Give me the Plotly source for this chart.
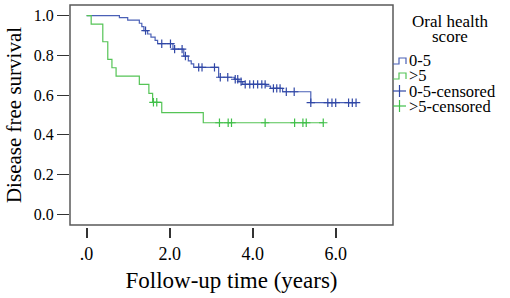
import plotly.graph_objects as go

# ---- data ----
blue_times = [0, 0.79, 0.99, 1.27, 1.33, 1.38, 1.47, 1.55, 1.65, 1.71, 2.08, 2.34, 2.45, 2.52, 2.58,
              3.18, 3.56, 3.67, 3.76, 4.32, 4.43, 4.72, 5.40, 6.51]
blue_surv = [1.0, 0.990, 0.978, 0.962, 0.945, 0.925, 0.908, 0.892, 0.876, 0.859, 0.832, 0.797, 0.773,
             0.757, 0.740, 0.690, 0.680, 0.668, 0.654, 0.645, 0.634, 0.617, 0.562, 0.562]
blue_cens_t = [1.42, 1.81, 2.02, 2.12, 2.30, 2.38, 2.70, 2.78, 3.08, 3.22, 3.40, 3.58, 3.64, 3.72,
               3.82, 3.93, 4.02, 4.12, 4.22, 4.30, 4.50, 4.58, 4.66, 4.81, 5.00, 5.40, 5.81, 5.91,
               6.00, 6.31, 6.40, 6.49]
blue_cens_s = [0.925, 0.859, 0.859, 0.832, 0.832, 0.797, 0.740, 0.740, 0.740, 0.690, 0.690, 0.680,
               0.680, 0.668, 0.654, 0.654, 0.654, 0.654, 0.654, 0.654, 0.634, 0.634, 0.634, 0.617,
               0.617, 0.562, 0.562, 0.562, 0.562, 0.562, 0.562, 0.562]

green_times = [0, 0.11, 0.39, 0.51, 0.61, 0.71, 1.27, 1.50, 1.59, 1.81, 2.81, 5.70]
green_surv = [1.0, 0.958, 0.869, 0.780, 0.738, 0.696, 0.654, 0.609, 0.564, 0.512, 0.461, 0.461]
green_cens_t = [1.61, 1.69, 3.20, 3.41, 3.49, 4.30, 5.01, 5.21, 5.29, 5.70]
green_cens_s = [0.564, 0.564, 0.461, 0.461, 0.461, 0.461, 0.461, 0.461, 0.461, 0.461]

x_ticks = [0, 2, 4, 6]
x_tick_labels = [".0", "2.0", "4.0", "6.0"]
y_ticks = [0, 0.2, 0.4, 0.6, 0.8, 1.0]
y_tick_labels = ["0.0", "0.2", "0.4", "0.6", "0.8", "1.0"]

legend_title_lines = ["Oral health", "score"]
legend_labels = ["0-5", ">5", "0-5-censored", ">5-censored"]

BLUE = "#4a60b6"
BLUE_MARK = "#3047a6"
GREEN = "#55c456"
GREEN_MARK = "#3fbf48"
FONT = "Liberation Serif"

W, H = 510, 298
ML, MR, MT, MB = 70, 117, 5, 71
PW = W - ML - MR
PH = H - MT - MB


def px(xp):
    return (xp - ML) / PW


def py(yp):
    return (H - MB - yp) / PH


fig = go.Figure()
fig.add_trace(go.Scatter(x=blue_times, y=blue_surv, mode="lines", line=dict(color=BLUE, width=1.2, shape="hv"),
                         showlegend=False))
fig.add_trace(go.Scatter(x=green_times, y=green_surv, mode="lines", line=dict(color=GREEN, width=1.2, shape="hv"),
                         showlegend=False))
fig.add_trace(go.Scatter(x=blue_cens_t, y=blue_cens_s, mode="markers",
                         marker=dict(symbol="cross-thin-open", size=6, color=BLUE_MARK,
                                     line=dict(color=BLUE_MARK, width=1.2)),
                         showlegend=False))
fig.add_trace(go.Scatter(x=green_cens_t, y=green_cens_s, mode="markers",
                         marker=dict(symbol="cross-thin-open", size=6, color=GREEN_MARK,
                                     line=dict(color=GREEN_MARK, width=1.2)),
                         showlegend=False))

shapes = []
# plot frame
shapes.append(dict(type="rect", xref="paper", yref="paper", x0=0, x1=1, y0=py(225), y1=1,
                   line=dict(color="#5a5a5a", width=1.5), layer="above"))

annotations = []
for line_text, ly in zip(legend_title_lines, [21.5, 37]):
    annotations.append(dict(text=line_text, xref="paper", yref="paper", x=px(450), y=py(ly), showarrow=False,
                            font=dict(family=FONT, size=17, color="black"),
                            xanchor="center", yanchor="middle"))
legend_rows = [61, 76, 91, 106]
legend_cols = [BLUE, GREEN, BLUE_MARK, GREEN_MARK]
for i, (lab, col, ry) in enumerate(zip(legend_labels, legend_cols, legend_rows)):
    annotations.append(dict(text=lab, xref="paper", yref="paper", x=px(407), y=py(ry), showarrow=False,
                            font=dict(family=FONT, size=16.5, color="black"), xanchor="left", yanchor="middle"))
    if i < 2:
        path = "M {a},{b} L {c},{b} L {c},{d} L {e},{d} L {e},{b}".format(
            a=px(393), b=py(ry + 3), c=px(399), d=py(ry - 3), e=px(406))
        shapes.append(dict(type="path", xref="paper", yref="paper", path=path,
                           line=dict(color=col, width=1.2)))
    else:
        shapes.append(dict(type="line", xref="paper", yref="paper", x0=px(393), x1=px(406),
                           y0=py(ry), y1=py(ry), line=dict(color=col, width=1.2)))
        shapes.append(dict(type="line", xref="paper", yref="paper", x0=px(399.5), x1=px(399.5),
                           y0=py(ry - 6), y1=py(ry + 6), line=dict(color=col, width=1.2)))

fig.update_layout(
    width=W, height=H,
    margin=dict(l=ML, r=MR, t=MT, b=MB, pad=0),
    paper_bgcolor="white", plot_bgcolor="white",
    font=dict(family=FONT, color="black"),
    shapes=shapes, annotations=annotations,
    xaxis=dict(range=[-0.4, 7.38], tickvals=x_ticks, ticktext=x_tick_labels, ticks="outside", ticklen=10,
               tickwidth=1.5, tickcolor="#333", showline=False, showgrid=False, zeroline=False,
               anchor="free", position=0, tickfont=dict(size=18, family=FONT, color="black"),
               title=dict(text="Follow-up time (years)", font=dict(size=23, family=FONT, color="black"),
                          standoff=9)),
    yaxis=dict(range=[-0.054, 1.054], domain=[py(225), 1], tickvals=y_ticks, ticktext=y_tick_labels,
               ticks="outside", ticklen=12, tickwidth=1, tickcolor="#333", showline=False,
               showgrid=False, zeroline=False, tickfont=dict(size=16, family=FONT, color="black"),
               title=dict(text="Disease free survival", font=dict(size=21, family=FONT, color="black"),
                          standoff=6)),
)

fig.write_html("out.html", config={"displayModeBar": False},
               post_script="document.body.style.margin='0px';")
